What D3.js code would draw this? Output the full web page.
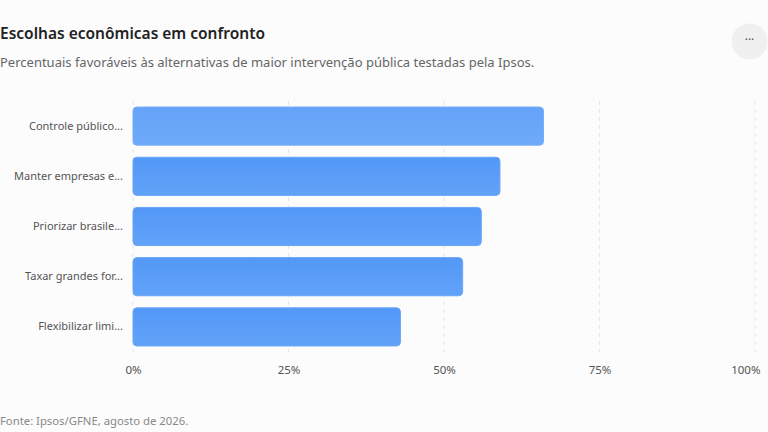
<!DOCTYPE html>
<html>
<head>
<meta charset="utf-8">
<script src="https://cdn.jsdelivr.net/npm/d3@7"></script>
<style>
  html, body { margin: 0; padding: 0; background: #fcfcfc; }
  svg { display: block; font-family: "Noto Sans", "Open Sans", sans-serif; }
</style>
</head>
<body>
<div id="chart"></div>
<script>
// dados
const categories = ["Controle público...", "Manter empresas e...", "Priorizar brasile...", "Taxar grandes for...", "Flexibilizar limi..."];
const values = [66, 59, 56, 53, 43];
const ticks = [0, 25, 50, 75, 100];
const tickLabels = ["0%", "25%", "50%", "75%", "100%"];

const W = 768, H = 432;
const margin = {top: 101, right: 13, bottom: 80, left: 133};
const width = W - margin.left - margin.right;
const height = H - margin.top - margin.bottom;

const svg = d3.select("#chart").append("svg")
    .attr("width", W)
    .attr("height", H);

svg.append("rect").attr("width", W).attr("height", H).attr("fill", "#fcfcfc");

// gradientes das barras
const defs = svg.append("defs");
const grad = defs.append("linearGradient").attr("id", "barGrad")
    .attr("x1", 0).attr("y1", 0).attr("x2", 0).attr("y2", 1);
grad.append("stop").attr("offset", "0%").attr("stop-color", "#5398f7");
grad.append("stop").attr("offset", "100%").attr("stop-color", "#62a2f8");
const gradHi = defs.append("linearGradient").attr("id", "barGradHi")
    .attr("x1", 0).attr("y1", 0).attr("x2", 0).attr("y2", 1);
gradHi.append("stop").attr("offset", "0%").attr("stop-color", "#64a3f8");
gradHi.append("stop").attr("offset", "100%").attr("stop-color", "#6eaaf9");

// títulos
svg.append("text").attr("x", 0).attr("y", 39)
    .attr("font-size", 15.5).attr("font-weight", 600).attr("fill", "#222")
    .text("Escolhas econômicas em confronto");
svg.append("text").attr("x", 0).attr("y", 67)
    .attr("font-size", 13).attr("fill", "#666")
    .text("Percentuais favoráveis às alternativas de maior intervenção pública testadas pela Ipsos.");

// botão de menu
const btn = svg.append("g").attr("transform", "translate(749.5,41.5)");
btn.append("circle").attr("r", 18).attr("fill", "#f0f0f0");
btn.append("text").attr("text-anchor", "middle").attr("y", 2)
    .attr("font-size", 12).attr("fill", "#555")
    .text("···");

const g = svg.append("g")
    .attr("transform", "translate(" + margin.left + "," + margin.top + ")");

const x = d3.scaleLinear().domain([0, 100]).range([0, width]);
const y = d3.scaleBand().domain(categories).range([0, height])
    .paddingInner(0.24).paddingOuter(0.12);

// grade
g.selectAll(".grid").data(ticks).enter().append("line")
    .attr("class", "grid")
    .attr("x1", d => x(d)).attr("x2", d => x(d))
    .attr("y1", 0).attr("y2", height)
    .attr("stroke", "#e6e6e6").attr("stroke-dasharray", "4,4");

// barras
g.selectAll(".bar").data(values).enter().append("rect")
    .attr("class", "bar")
    .attr("x", x(0))
    .attr("y", (d, i) => y(categories[i]))
    .attr("width", d => x(d) - x(0))
    .attr("height", y.bandwidth())
    .attr("rx", 4).attr("ry", 4)
    .attr("fill", (d, i) => i === 0 ? "url(#barGradHi)" : "url(#barGrad)")
    .attr("stroke", (d, i) => i === 0 ? "#74aef9" : "#6aa6f8")
    .attr("stroke-width", 1);

// eixo y
const yAxis = d3.axisLeft(y).tickSize(0).tickPadding(10);
g.append("g").attr("class", "y-axis").call(yAxis)
    .call(s => s.select(".domain").remove())
    .selectAll("text")
    .attr("font-size", 11).attr("fill", "#555")
    .attr("font-family", "'Noto Sans', sans-serif");

// eixo x
const xAxis = d3.axisBottom(x).tickValues(ticks)
    .tickFormat((d, i) => tickLabels[i]).tickSize(0).tickPadding(14);
const xg = g.append("g").attr("class", "x-axis")
    .attr("transform", "translate(0," + height + ")")
    .call(xAxis);
xg.select(".domain").remove();
xg.selectAll("text")
    .attr("font-size", 11.5).attr("fill", "#555")
    .attr("font-family", "'Noto Sans', sans-serif");
xg.selectAll(".tick").filter(d => d === 100).select("text")
    .attr("text-anchor", "end").attr("x", 5);

// fonte
svg.append("text").attr("x", 0).attr("y", 425)
    .attr("font-size", 11.3).attr("fill", "#888")
    .text("Fonte: Ipsos/GFNE, agosto de 2026.");
</script>
</body>
</html>
